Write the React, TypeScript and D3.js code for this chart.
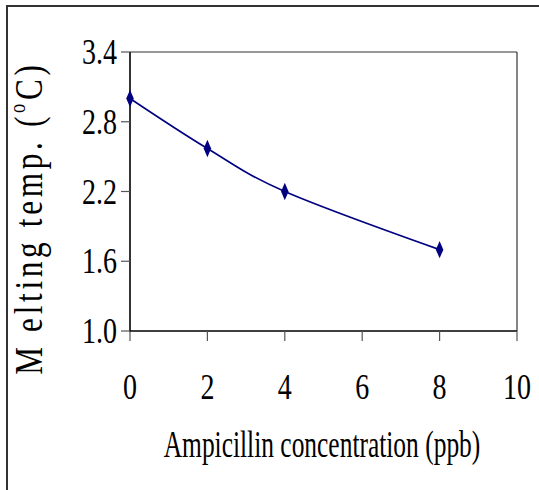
import React from "react";
import * as d3 from "d3";

const concentrations = [0, 2, 4, 8];
const meltingTemps = [3.0, 2.57, 2.2, 1.7];
const xTicks = [0, 2, 4, 6, 8, 10];
const yTicks = [1.0, 1.6, 2.2, 2.8, 3.4];
const xTitle = "Ampicillin concentration (ppb)";
const yTitleMain = "M elting temp. (";
const yTitleSup = "o";
const yTitleEnd = "C)";

const W = 539;
const H = 490;
const plot = { left: 130, right: 517, top: 52, bottom: 331 };
const FONT = "'Liberation Serif', 'Times New Roman', serif";
const SX = 0.8;
const TICK_FS = 35;

export default function App() {
  const x = d3.scaleLinear().domain([0, 10]).range([plot.left, plot.right]);
  const y = d3.scaleLinear().domain([1.0, 3.4]).range([plot.bottom, plot.top]);
  const pts: [number, number][] = concentrations.map((c, i) => [x(c), y(meltingTemps[i])]);
  const line = d3.line().curve(d3.curveCatmullRom.alpha(0))(pts) || "";
  const diamond = d3.symbol().type(d3.symbolDiamond).size(60)() || "";

  return (
    <svg
      width={W}
      height={H}
      style={{ position: "absolute", left: 0, top: 0, background: "#fff" }}
      fontFamily={FONT}
    >
      <rect x={0} y={0} width={W} height={H} fill="#fff" />
      <rect x={7} y={6} width={W} height={H} fill="none" stroke="#333" strokeWidth={2} />
      {/* plot frame */}
      <line x1={plot.left} x2={plot.right} y1={plot.top} y2={plot.top} stroke="#333" strokeWidth={1.2} />
      <line x1={plot.right} x2={plot.right} y1={plot.top} y2={plot.bottom} stroke="#333" strokeWidth={1.2} />
      {/* y axis */}
      <line x1={plot.left} x2={plot.left} y1={plot.top} y2={plot.bottom + 1} stroke="#000" strokeWidth={1.6} />
      {yTicks.map((t) => (
        <g key={"y" + t}>
          <line x1={plot.left - 9} x2={plot.left} y1={y(t)} y2={y(t)} stroke="#555" strokeWidth={1.2} />
          <text
            transform={`translate(117,${y(t) + 12}) scale(${SX},1)`}
            textAnchor="end"
            fontSize={TICK_FS}
            fill="#000"
          >
            {t.toFixed(1)}
          </text>
        </g>
      ))}
      {/* x axis */}
      <line x1={plot.left} x2={plot.right} y1={plot.bottom} y2={plot.bottom} stroke="#000" strokeWidth={1.6} />
      {xTicks.map((t) => (
        <g key={"x" + t}>
          <line x1={x(t)} x2={x(t)} y1={plot.bottom} y2={plot.bottom + 10} stroke="#555" strokeWidth={1.2} />
          <text
            transform={`translate(${x(t)},399) scale(${SX},1)`}
            textAnchor="middle"
            fontSize={TICK_FS}
            fill="#000"
          >
            {t}
          </text>
        </g>
      ))}
      {/* series */}
      <path d={line} fill="none" stroke="#000080" strokeWidth={1.6} />
      {pts.map((p, i) => (
        <path key={"m" + i} d={diamond} transform={`translate(${p[0]},${p[1]}) scale(0.9,1.2)`} fill="#000080" />
      ))}
      {/* titles */}
      <text transform="translate(322,457) scale(0.67,1)" textAnchor="middle" fontSize={38} fill="#000">
        {xTitle}
      </text>
      <text
        transform={`translate(42,220) rotate(-90) scale(0.8,1)`}
        textAnchor="middle"
        fontSize={39}
        textLength={387}
        lengthAdjust="spacing"
        fill="#000"
      >
        {yTitleMain}
        <tspan fontSize={23} dy={-17}>{yTitleSup}</tspan>
        <tspan dy={17}>{yTitleEnd}</tspan>
      </text>
    </svg>
  );
}
